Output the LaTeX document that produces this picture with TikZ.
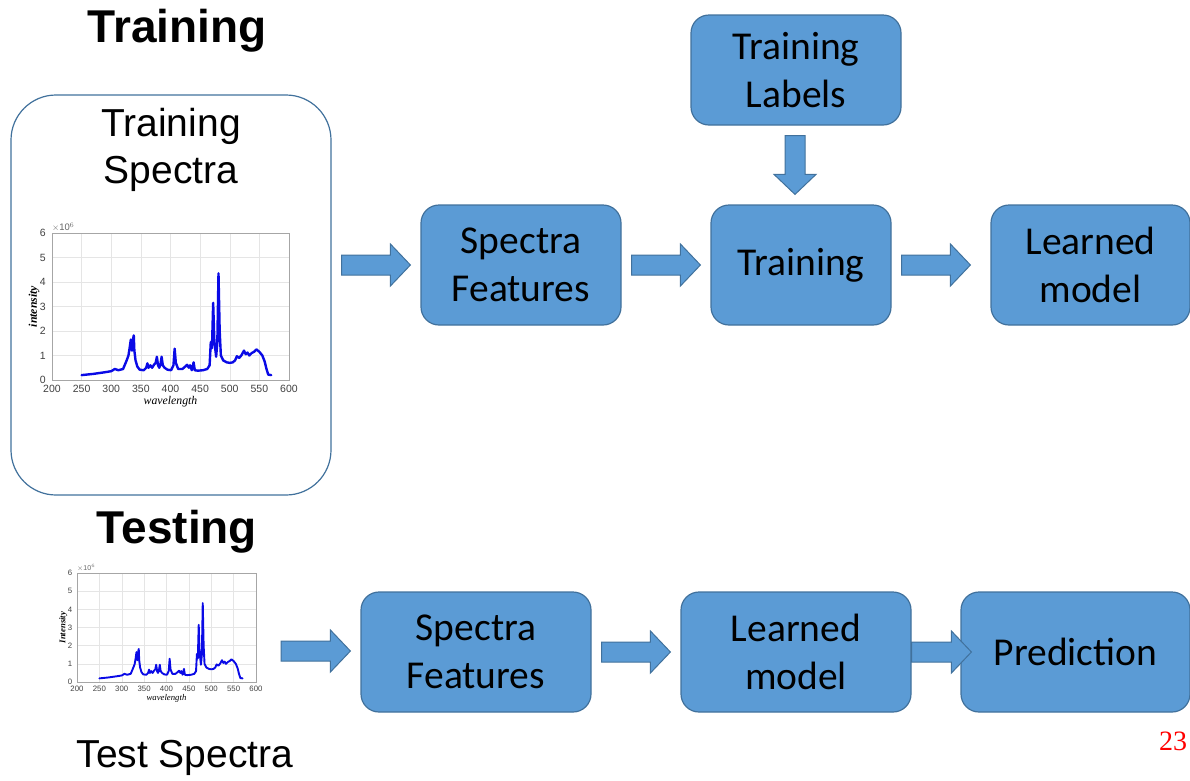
\documentclass[tikz,border=0pt]{standalone}
\usepackage{fontspec}
\setmainfont{Liberation Sans}
\newfontfamily\boxfont{Carlito}
\newfontfamily\serifont{Liberation Serif}
\usetikzlibrary{calc}
\definecolor{boxfill}{HTML}{5B9BD5}
\definecolor{boxline}{HTML}{41719C}
\definecolor{specblue}{RGB}{10,10,230}
\tikzset{
  blk/.style={draw=boxline, fill=boxfill, line width=1.2pt, rounded corners=18pt,
    inner sep=0pt, align=center, text=black, font=\boxfont\fontsize{39.5}{48}\selectfont},
  barrow/.style={draw=boxline, fill=boxfill, line width=1pt, line join=miter},
  gridc/.style={draw=black!10, line width=0.5pt},
  axc/.style={draw=black!35, line width=0.6pt},
  spec/.style={draw=specblue, line join=round, line cap=round},
}
\newcommand{\harrow}[2]{%
  \draw[barrow] let \p1=#1, \p2=#2 in
    (\x1,\y1+10pt) -- (\x2-20pt,\y1+10pt) -- (\x2-20pt,\y1+21pt) -- (\x2,\y1)
    -- (\x2-20pt,\y1-21pt) -- (\x2-20pt,\y1-10pt) -- (\x1,\y1-10pt) -- cycle;}
\newcommand{\varrow}[2]{%
  \draw[barrow] let \p1=#1, \p2=#2 in
    (\x1-10pt,\y1) -- (\x1-10pt,\y2+20pt) -- (\x1-21pt,\y2+20pt) -- (\x1,\y2)
    -- (\x1+21pt,\y2+20pt) -- (\x1+10pt,\y2+20pt) -- (\x1+10pt,\y1) -- cycle;}
\newcommand{\specplot}[7]{% left, bottom, width, height, font size, ylabel, line width
  \pgfmathsetmacro\sx{#3/400}\pgfmathsetmacro\sy{#4/6}\pgfmathsetmacro\kk{#3/237}
  \pgfmathsetmacro\fl{#5*1.12}\pgfmathsetmacro\fs{#5*0.9}
  \begin{scope}[shift={(#1,#2)}, x=\sx pt, y=\sy pt]
    \foreach \gx in {50,100,...,350} \draw[gridc] (\gx,0) -- (\gx,6);
    \foreach \gy in {1,...,5} \draw[gridc] (0,\gy) -- (400,\gy);
    \draw[axc] (0,0) rectangle (400,6);
    \foreach \gx in {200,250,...,600}
      \node[anchor=north, inner sep=0pt, text=black!75, font=\fontsize{#5}{#5}\selectfont]
        at ([yshift=-5*\kk pt]\gx-200,0) {\gx};
    \foreach \gy in {0,...,6}
      \node[anchor=east, inner sep=0pt, text=black!75, font=\fontsize{#5}{#5}\selectfont]
        at ([xshift=-6*\kk pt]0,\gy) {\gy};
    \node[anchor=south west, inner sep=0pt, text=black!60, font=\fontsize{\fs}{\fs}\selectfont]
      at ([yshift=1pt]0,6) {$\times$10$^6$};
    \node[rotate=90, inner sep=0pt, font=\serifont\itshape\bfseries\fontsize{\fl}{\fl}\selectfont]
      at ([xshift=-18*\kk pt]0,3) {#6};
    \node[inner sep=0pt, font=\serifont\itshape\fontsize{\fl}{\fl}\selectfont]
      at ([yshift=-22*\kk pt]200,0) {wavelength};
    \draw[spec, line width=#7, shift={(-200,0)}] plot coordinates {
      (250,0.2)(270,0.25)(290,0.32)(300,0.36)(306,0.45)(312,0.4)(320,0.45)(326,0.8)(329,1.0)
      (331,1.3)(333,1.65)(335,1.2)(337,1.7)(338,1.82)(339,1.2)(341,0.8)(344,0.55)(348,0.42)
      (355,0.4)(359,0.5)(361,0.68)(363,0.5)(366,0.6)(369,0.5)(372,0.62)(375,0.7)(377,0.95)
      (379,0.6)(381,0.5)(383,0.62)(385,0.95)(387,0.6)(390,0.5)(395,0.42)(401,0.4)(405,0.6)
      (407,1.28)(409,0.7)(413,0.45)(420,0.45)(425,0.55)(428,0.62)(431,0.5)(433,0.6)(436,0.4)
      (439,0.72)(441,0.4)(446,0.38)(455,0.4)(462,0.45)(466,0.6)(468,1.55)(470,1.3)(472,3.15)
      (474,1.6)(477,0.95)(479,1.5)(481,4.35)(483,2.0)(485,1.0)(489,0.8)(495,0.72)(500,0.7)
      (505,0.72)(509,0.8)(512,0.97)(516,0.9)(520,1.02)(524,1.2)(527,1.05)(530,1.12)(533,1.0)
      (537,1.1)(541,1.15)(545,1.25)(550,1.15)(555,1.0)(559,0.75)(562,0.45)(565,0.22)(570,0.2)};
  \end{scope}}
\begin{document}
\begin{tikzpicture}[x=1pt, y=-1pt]
  \useasboundingbox (0,0) rectangle (1190,780);
  % headings
  \node[font=\bfseries\fontsize{46}{50}\selectfont] (trh) at (177,31) {Training};
  \node[font=\bfseries\fontsize{46}{50}\selectfont] (teh) at (177,532) {Testing};
  % big training spectra box
  \node[draw=boxline, line width=1.2pt, rounded corners=45pt, minimum width=320pt,
        minimum height=400pt, inner sep=0pt] (tsbox) at (171,295) {};
  \node[align=center, font=\fontsize{39}{47}\selectfont] (trs) at (171,150) {Training\\Spectra};
  \specplot{52}{380}{237}{147}{10.5}{intensity}{2.4pt}
  \specplot{77}{682}{179}{109}{7.8}{Intensity}{1.9pt}
  \coordinate (testplot) at (271,651);
  \node[font=\fontsize{39}{47}\selectfont] (tes) at (185,758) {Test Spectra};
  % blocks (top row)
  \node[blk, minimum width=210pt, minimum height=110pt] (lab) at (796,70) {Training\\Labels};
  \node[blk, minimum width=200pt, minimum height=120pt] (sf1) at (521,265) {Spectra\\Features};
  \node[blk, minimum width=180pt, minimum height=120pt] (tr) at (801,265) {Training};
  \node[blk, minimum width=199pt, minimum height=120pt] (lm1) at (1090.5,265) {Learned\\model};
  % blocks (bottom row)
  \node[blk, minimum width=230pt, minimum height=120pt] (sf2) at (476,652) {Spectra\\Features};
  \node[blk, minimum width=230pt, minimum height=120pt] (lm2) at (796,652) {Learned\\model};
  \node[blk, minimum width=229pt, minimum height=120pt] (pred) at (1075.5,652) {Prediction};
  % block arrows
  \harrow{($(tsbox.east |- sf1.west)+(10,0)$)}{($(sf1.west)+(-10,0)$)}
  \harrow{($(sf1.east)+(10,0)$)}{($(tr.west)+(-10,0)$)}
  \harrow{($(tr.east)+(10,0)$)}{($(lm1.west)+(-20,0)$)}
  \varrow{($(lab.south)+(-1,10)$)}{($(tr.north)+(-6,-10)$)}
  \harrow{($(testplot)+(10,0)$)}{($(sf2.west)+(-10,0)$)}
  \harrow{($(sf2.east)+(10,0)$)}{($(lm2.west)+(-10,0)$)}
  \harrow{($(lm2.east)+(0,0)$)}{($(pred.west)+(11,0)$)}
  % page number
  \node[text=red, font=\serifont\fontsize{28}{30}\selectfont] (pg) at (1173,741) {23};
\end{tikzpicture}
\end{document}
